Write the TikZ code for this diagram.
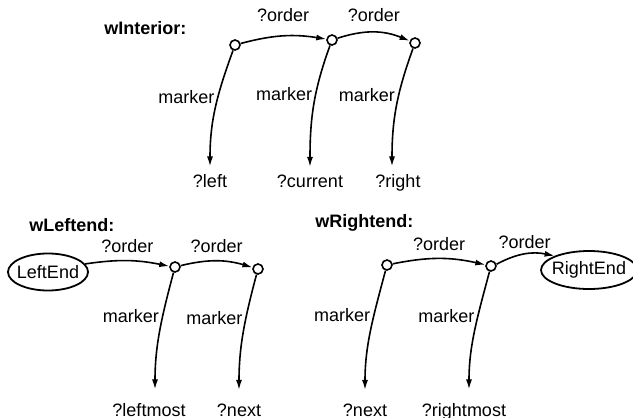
\documentclass[tikz,border=0pt]{standalone}
\usepackage{fontspec}
\setmainfont{Liberation Sans}
\usetikzlibrary{shapes.geometric,arrows.meta}

\begin{document}
\begin{tikzpicture}[x=0.5pt, y=-0.5pt, line width=0.8pt, >={Latex[length=5pt,width=3pt]}, font=\fontsize{9}{10}\selectfont, dot/.style={circle, draw, minimum size=5pt, inner sep=0pt}, endnode/.style={ellipse, draw, line width=0.9pt, inner xsep=-2pt, inner ysep=0pt}, title/.style={anchor=west, font=\fontsize{9}{10}\selectfont\bfseries}, target/.style={anchor=base}, mlabel/.style={left, inner sep=1.5pt}]

  \useasboundingbox (0,0) rectangle (633,418);

  \node[title] (tint) at (97,28) {wInterior:};
  \node[dot] (i1) at (235,45) {};
  \node[dot] (i2) at (332,40) {};
  \node[dot] (i3) at (415,43) {};
  \node[target] (ileft) at (210,187) {?left};
  \node[target] (icur) at (310,187) {?current};
  \node[target] (iright) at (398,187) {?right};

  \draw[->] (i1) to[bend left=12] node[above=3.5pt] {?order} (i2);
  \draw[->] (i2) to[bend left=20] node[above=1.5pt] {?order} (i3);
  \draw[->] (i1) to[out=-110, in=90] node[mlabel, pos=0.4] {marker} (ileft);
  \draw[->] (i2) to[out=-110, in=90] node[mlabel, pos=0.4] {marker} (icur);
  \draw[->] (i3) to[out=-110, in=90] node[mlabel, pos=0.4] {marker} ([xshift=-3pt]iright.north);

  \node[title] (tleft) at (22,225) {wLeftend:};
  \node[endnode, minimum width=40pt, minimum height=18.5pt] (lend) at (48,272) {LeftEnd};
  \node[dot] (l1) at (175,267) {};
  \node[dot] (l2) at (258,269) {};
  \node[target] (lmost) at (149,416) {?leftmost};
  \node[target] (lnext) at (239,416) {?next};

  \draw[->] (lend) to[bend left=10] node[above=0.5pt] {?order} (l1);
  \draw[->] (l1) to[bend left=15] node[above=0.5pt] {?order} (l2);
  \draw[->, shorten >=3pt] (l1) to[out=-105, in=90] node[mlabel, pos=0.35] {marker} ([xshift=3pt]lmost.north);
  \draw[->, shorten >=3pt] (l2) to[out=-105, in=90] node[mlabel, pos=0.35] {marker} (lnext);

  \node[title] (tright) at (308,223) {wRightend:};
  \node[dot] (r1) at (387,265) {};
  \node[dot] (r2) at (491,266) {};
  \node[endnode, minimum width=48pt, minimum height=19pt] (rend) at (589,270) {RightEnd};
  \node[target] (rnext) at (365,416) {?next};
  \node[target] (rmost) at (464,416) {?rightmost};

  \draw[->] (r1) to[bend left=12] node[above=0.5pt] {?order} (r2);
  \draw[->] (r2) to[bend left=20] node[above=-1pt] {?order} (rend);
  \draw[->, shorten >=3pt] (r1) to[out=-105, in=90] node[mlabel, pos=0.35] {marker} (rnext);
  \draw[->, shorten >=3pt] (r2) to[out=-105, in=90] node[mlabel, pos=0.35] {marker} ([xshift=2.5pt]rmost.north);
  \end{tikzpicture}
\end{document}
